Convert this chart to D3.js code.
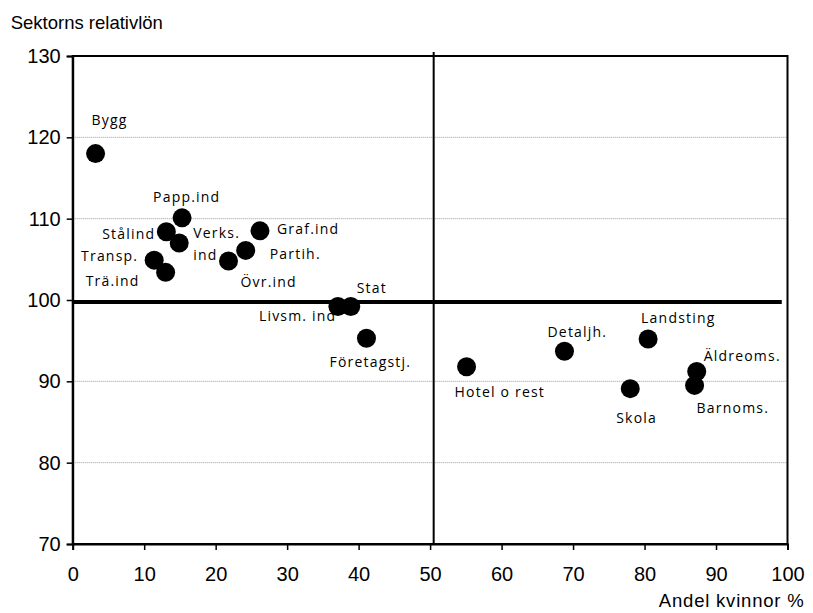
<!DOCTYPE html>
<html>
<head>
<meta charset="utf-8">
<script src="https://cdn.jsdelivr.net/npm/d3@7"></script>
<style>
  body { margin: 0; background: #fff; }
  .tick text { font-family: "Liberation Sans Narrow", "Liberation Sans", Arial, sans-serif; font-size: 20px; fill: #000; }
</style>
</head>
<body>
<div id="chart"></div>
<script>
// sektorer, andel kvinnor (%) och relativlön
const sectors = ["Bygg", "Papp.ind", "Stålind", "Verks.ind", "Transp.", "Trä.ind", "Övr.ind", "Partih.", "Graf.ind",
  "Livsm.ind", "Stat", "Företagstj.", "Hotel o rest", "Detaljh.", "Landsting", "Skola", "Äldreoms.", "Barnoms."]
const andelKvinnor = [3.2, 15.3, 13.1, 14.9, 11.4, 13.0, 21.8, 24.2, 26.2, 37.1, 38.9, 41.1, 55.1, 68.8, 80.5, 78.0, 87.3, 87.0]
const relativlon = [118.0, 110.1, 108.4, 107.0, 104.9, 103.4, 104.8, 106.1, 108.5, 99.2, 99.2, 95.3, 91.8, 93.7, 95.2, 89.1, 91.2, 89.5]
const labelText = [["Bygg"], ["Papp.ind"], ["Stålind"], ["Verks.", "ind"], ["Transp."], ["Trä.ind"], ["Övr.ind"], ["Partih."], ["Graf.ind"],
  ["Livsm. ind"], ["Stat"], ["Företagstj."], ["Hotel o rest"], ["Detaljh."], ["Landsting"], ["Skola"], ["Äldreoms."], ["Barnoms."]]
const xTicks = [0, 10, 20, 30, 40, 50, 60, 70, 80, 90, 100]
const yTicks = [70, 80, 90, 100, 110, 120, 130]
const gridValues = [80, 90, 110, 120]
const avgLon = 99.75
const splitX = 50.5

// label placement in pixels relative to the point [dx, dy, anchor]
const labelPos = [[-4, -34, "start"], [-29, -21, "start"], [-11, 2, "end"], [14, -10, "start"], [-16, -4, "end"], [-26, 9, "end"],
  [12, 21, "start"], [24, 4, "start"], [17, -2, "start"], [-79, 10, "start"], [6, -18, "start"], [-37, 24, "start"],
  [-12, 25, "start"], [-17, -19, "start"], [-7, -21, "start"], [-14, 29, "start"], [7, -15, "start"], [2, 23, "start"]]

let margin = {top: 56, right: 25.5, bottom: 69, left: 72.7}
let width = 813 - margin.left - margin.right
let height = 613 - margin.top - margin.bottom

let svg = d3.select("#chart")
    .append("svg")
    .attr("width", 813)
    .attr("height", 613)
    .append("g")
    .attr("transform", "translate(" + margin.left + "," + margin.top + ")")

let xScale = d3.scaleLinear().domain([0, 100]).range([0, width])
let yScale = d3.scaleLinear().domain([70, 130]).range([height, 0])

// dotted grid
svg.selectAll(".grid")
    .data(gridValues)
    .enter().append("line")
    .attr("x1", 0).attr("x2", width)
    .attr("y1", d => yScale(d)).attr("y2", d => yScale(d))
    .attr("stroke", "#999")
    .attr("stroke-width", 1)
    .attr("stroke-dasharray", "1,1")

// plot box
svg.append("rect")
    .attr("width", width).attr("height", height)
    .attr("fill", "none")
    .attr("stroke", "#000")
    .attr("stroke-width", 2)

// 50 % line
svg.append("line")
    .attr("x1", xScale(splitX)).attr("x2", xScale(splitX))
    .attr("y1", -4).attr("y2", height)
    .attr("stroke", "#000").attr("stroke-width", 2)

// average line
svg.append("line")
    .attr("x1", xScale(0)).attr("x2", xScale(99.2))
    .attr("y1", yScale(avgLon)).attr("y2", yScale(avgLon))
    .attr("stroke", "#000").attr("stroke-width", 4)

let xAxis = svg.append("g")
    .attr("transform", "translate(0," + height + ")")
    .call(d3.axisBottom(xScale).tickValues(xTicks).tickSize(6).tickPadding(17))
xAxis.select(".domain").attr("stroke-width", 2)
xAxis.selectAll(".tick line").attr("stroke-width", 1.5)

let yAxis = svg.append("g")
    .call(d3.axisLeft(yScale).tickValues(yTicks).tickSize(6).tickPadding(6))
yAxis.select(".domain").attr("stroke-width", 2)
yAxis.selectAll(".tick line").attr("stroke-width", 1.5)

// labels
let labels = svg.selectAll(".lbl")
    .data(sectors)
    .enter().append("text")
    .attr("class", "lbl")
    .attr("x", (d, i) => xScale(andelKvinnor[i]) + labelPos[i][0])
    .attr("y", (d, i) => yScale(relativlon[i]) + labelPos[i][1])
    .attr("text-anchor", (d, i) => labelPos[i][2])
    .style("font-family", "'Open Sans', 'Noto Sans', sans-serif")
    .style("font-size", "14px")
    .style("letter-spacing", "1.2px")

labels.each(function (d, i) {
    let t = d3.select(this)
    labelText[i].forEach((line, j) => {
        t.append("tspan")
            .attr("x", xScale(andelKvinnor[i]) + labelPos[i][0])
            .attr("dy", j == 0 ? "0.35em" : "1.6em")
            .text(line)
    })
})

// points
svg.selectAll(".pt")
    .data(sectors)
    .enter().append("circle")
    .attr("cx", (d, i) => xScale(andelKvinnor[i]))
    .attr("cy", (d, i) => yScale(relativlon[i]))
    .attr("r", 9.5)
    .attr("fill", "#000")

svg.append("text")
    .attr("x", -62)
    .attr("y", -27)
    .style("font-family", "'Liberation Sans', Arial, sans-serif")
    .style("font-size", "18.5px")
    .text("Sektorns relativlön")

svg.append("text")
    .attr("x", width + 17)
    .attr("y", height + 63)
    .attr("text-anchor", "end")
    .style("font-family", "'Liberation Sans', Arial, sans-serif")
    .style("font-size", "18.5px")
    .style("letter-spacing", "0.8px")
    .text("Andel kvinnor %")
</script>
</body>
</html>
